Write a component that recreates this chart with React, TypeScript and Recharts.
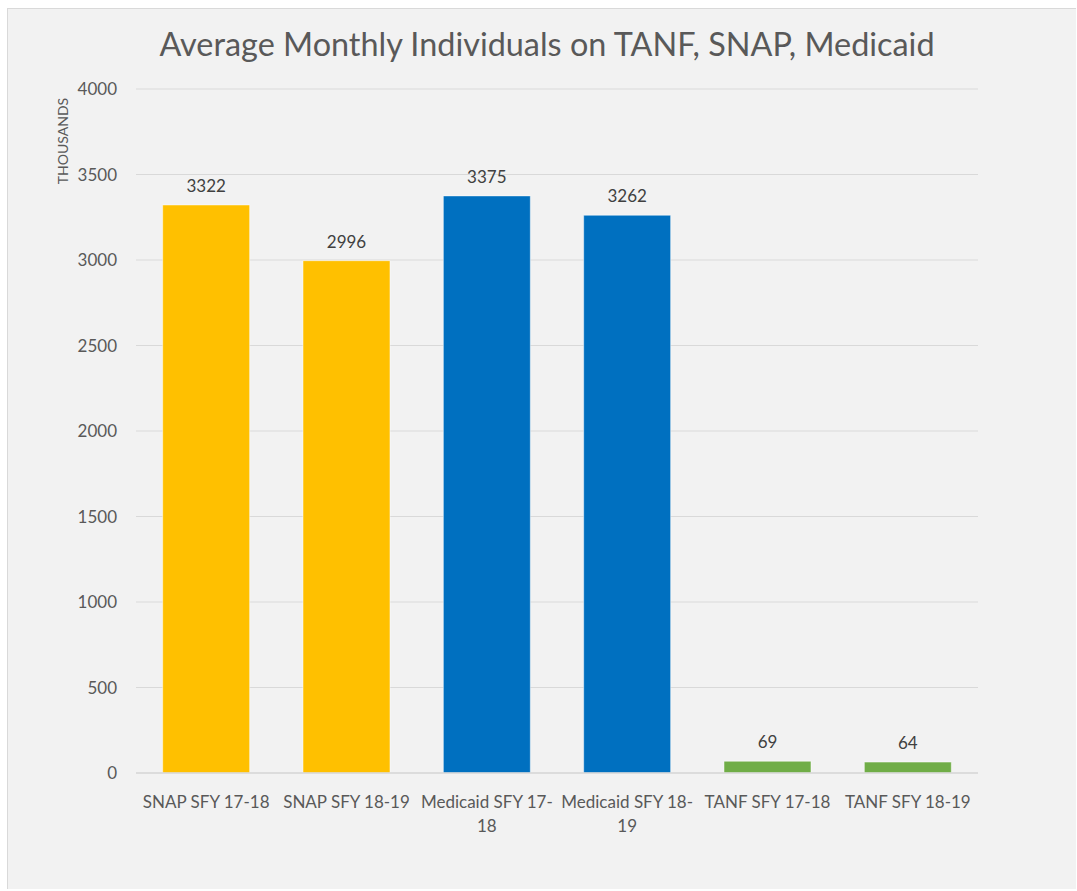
import { BarChart, Bar, XAxis, YAxis, CartesianGrid, Cell, LabelList } from 'recharts';

const categories = [
  'SNAP SFY 17-18',
  'SNAP SFY 18-19',
  'Medicaid SFY 17-18',
  'Medicaid SFY 18-19',
  'TANF SFY 17-18',
  'TANF SFY 18-19',
];
const individuals = [3322, 2996, 3375, 3262, 69, 64];
const yTicks = [0, 500, 1000, 1500, 2000, 2500, 3000, 3500, 4000];

const BAR_COLORS = ['#FFC000', '#FFC000', '#0070C0', '#0070C0', '#70AD47', '#70AD47'];

const data = categories.map((name, i) => ({ name, value: individuals[i] }));

const FONT = 'Lato, "Open Sans", sans-serif';

// Excel wraps the long ones after the hyphen
const splitLabel = (s: string) => {
  if (s.length <= 15) return [s];
  const cut = s.lastIndexOf('-') + 1;
  return [s.slice(0, cut), s.slice(cut)];
};

const CategoryTick = (props: any) => {
  const { x, y, payload } = props;
  const lines = splitLabel(String(payload.value));
  return (
    <text x={x} y={y} textAnchor="middle" fill="#595959" fontSize={17} fontFamily={FONT}>
      {lines.map((l, i) => (
        <tspan key={i} x={x} dy={i === 0 ? 33 : 24}>
          {l}
        </tspan>
      ))}
    </text>
  );
};

export default function App() {
  return (
    <div
      style={{
        position: 'absolute',
        left: 7,
        top: 8,
        width: 1068,
        height: 880,
        background: '#f2f2f2',
        borderTop: '1px solid #d9d9d9',
        borderLeft: '1px solid #d9d9d9',
        fontFamily: FONT,
      }}
    >
      <div
        style={{
          position: 'absolute',
          left: 0,
          top: 16,
          width: 1078,
          textAlign: 'center',
          fontSize: 32.4,
          lineHeight: '38px',
          color: '#595959',
        }}
      >
        Average Monthly Individuals on TANF, SNAP, Medicaid
      </div>
      <div
        style={{
          position: 'absolute',
          left: 54,
          top: 132,
          transform: 'translate(-50%, -50%) rotate(-90deg)',
          fontSize: 14,
          color: '#595959',
          whiteSpace: 'nowrap',
          zIndex: 2,
        }}
      >
        THOUSANDS
      </div>
      <div style={{ position: 'absolute', left: 0, top: 0 }}>
        <BarChart
          width={1068}
          height={880}
          data={data}
          margin={{ top: 80, right: 98, bottom: 56, left: 0 }}
          barCategoryGap="19%"
        >
          <CartesianGrid vertical={false} stroke="#d9d9d9" strokeWidth={1.2} />
          <XAxis
            dataKey="name"
            height={60}
            tick={<CategoryTick />}
            tickLine={false}
            tickSize={0}
            axisLine={{ stroke: '#d9d9d9', strokeWidth: 1.5 }}
            interval={0}
          />
          <YAxis
            width={128}
            domain={[0, 4000]}
            ticks={yTicks}
            axisLine={false}
            tickLine={false}
            tickSize={0}
            tickMargin={19}
            tick={{ fill: '#595959', fontSize: 17, fontFamily: FONT }}
          />
          <Bar dataKey="value" isAnimationActive={false} stroke="#ffffff" strokeOpacity={0.5} strokeWidth={1}>
            {data.map((d, i) => (
              <Cell key={d.name} fill={BAR_COLORS[i]} />
            ))}
            <LabelList
              dataKey="value"
              position="top"
              offset={13}
              fill="#404040"
              fontSize={17}
              fontFamily={FONT}
            />
          </Bar>
        </BarChart>
      </div>
    </div>
  );
}
